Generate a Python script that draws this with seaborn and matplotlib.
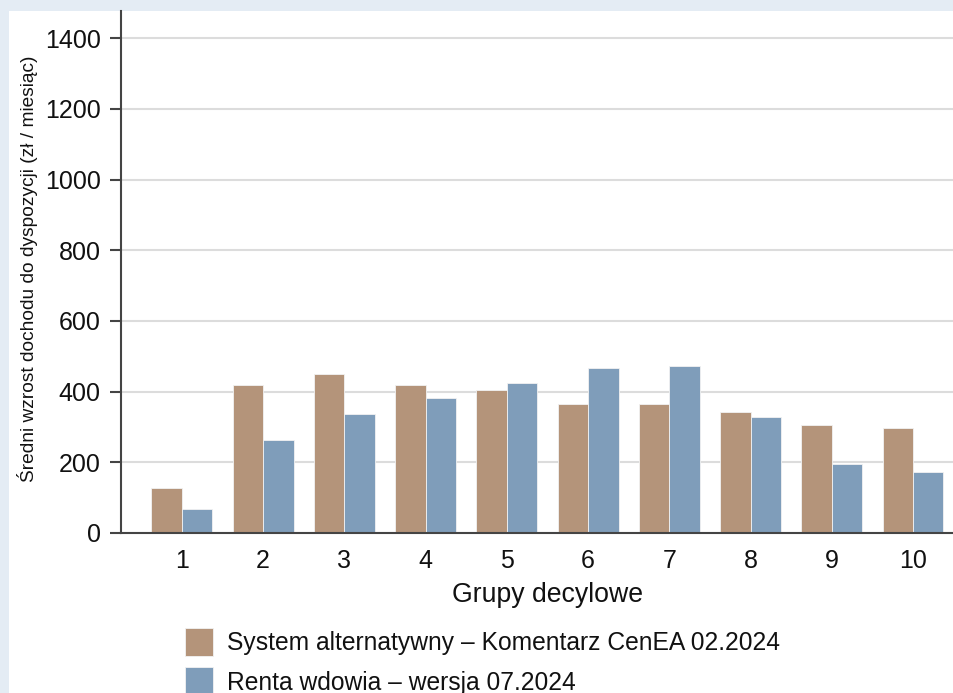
import matplotlib
matplotlib.use("Agg")
import matplotlib.pyplot as plt
import matplotlib.patches as mpatches
import seaborn as sns
import pandas as pd

groups = ["1", "2", "3", "4", "5", "6", "7", "8", "9", "10"]
series_names = ["System alternatywny – Komentarz CenEA 02.2024",
                "Renta wdowia – wersja 07.2024"]
alt_values = [127, 418, 449, 418, 404, 364, 366, 342, 307, 297]
renta_values = [67, 262, 338, 383, 425, 468, 472, 327, 196, 174]
colors = ["#b4947a", "#7f9dba"]
y_ticks = [0, 200, 400, 600, 800, 1000, 1200, 1400]
x_label = "Grupy decylowe"
y_label = "Średni wzrost dochodu do dyspozycji (zł / miesiąc)"

df = pd.DataFrame({
    "grupa": groups * 2,
    "wartosc": alt_values + renta_values,
    "seria": [series_names[0]] * len(groups) + [series_names[1]] * len(groups),
})

sns.set_theme(style="white")
plt.rcParams["font.family"] = ["Liberation Sans", "DejaVu Sans"]

W, H = 954, 693
fig = plt.figure(figsize=(W / 100, H / 100), dpi=100)
fig.patch.set_facecolor("#e4ecf4")
fig.add_artist(mpatches.Rectangle((9 / W, 0), 1 - 9 / W, 1 - 11 / H,
                                  transform=fig.transFigure, facecolor="white",
                                  edgecolor="none", zorder=0))

ax_left, ax_right, ax_top, ax_bottom = 121, 954, 11, 533
ax = fig.add_axes([ax_left / W, 1 - ax_bottom / H,
                   (ax_right - ax_left) / W, (ax_bottom - ax_top) / H])
ax.set_facecolor("none")

sns.barplot(data=df, x="grupa", y="wartosc", hue="seria", order=groups,
            hue_order=series_names, palette=colors, width=0.75, gap=0,
            edgecolor="#f2f2f2", linewidth=0.6, saturation=1, ax=ax,
            legend=False)

ax.set_xlim(-0.75, 9.505)
ax.set_ylim(0, 1477)
ax.set_yticks(y_ticks)
ax.set_yticklabels([str(t) for t in y_ticks])
ax.yaxis.grid(True, color="#dcdcdc", linewidth=1.5)
ax.xaxis.grid(False)
ax.set_axisbelow(True)

for s in ["top", "right"]:
    ax.spines[s].set_visible(False)
for s in ["left", "bottom"]:
    ax.spines[s].set_color("#444444")
    ax.spines[s].set_linewidth(1.5)

ax.tick_params(axis="y", which="major", left=True, length=8, width=1.5,
               color="#444444", labelsize=18, pad=6.5, labelcolor="#111111")
ax.tick_params(axis="x", which="major", bottom=False, length=0,
               labelsize=18, pad=11.5, labelcolor="#111111")

ax.set_xlabel(x_label, fontsize=19.2, color="#111111")
ax.xaxis.set_label_coords((548 - ax_left) / (ax_right - ax_left), -0.093)
ax.set_ylabel(y_label, fontsize=13.8, color="#111111")
ax.yaxis.set_label_coords(-0.10, 0.507)

handles = [mpatches.Patch(facecolor=c, edgecolor="#f2f2f2", linewidth=0.6)
           for c in colors]
fig.legend(handles, series_names, loc="upper left",
           bbox_to_anchor=(185 / W, 1 - 628 / H), frameon=False,
           fontsize=17.7, handlelength=1.14, handleheight=1.38,
           handletextpad=0.58, labelspacing=0.46, borderpad=0,
           borderaxespad=0, labelcolor="#111111")

fig.savefig("out.png", dpi=100, facecolor=fig.get_facecolor())
